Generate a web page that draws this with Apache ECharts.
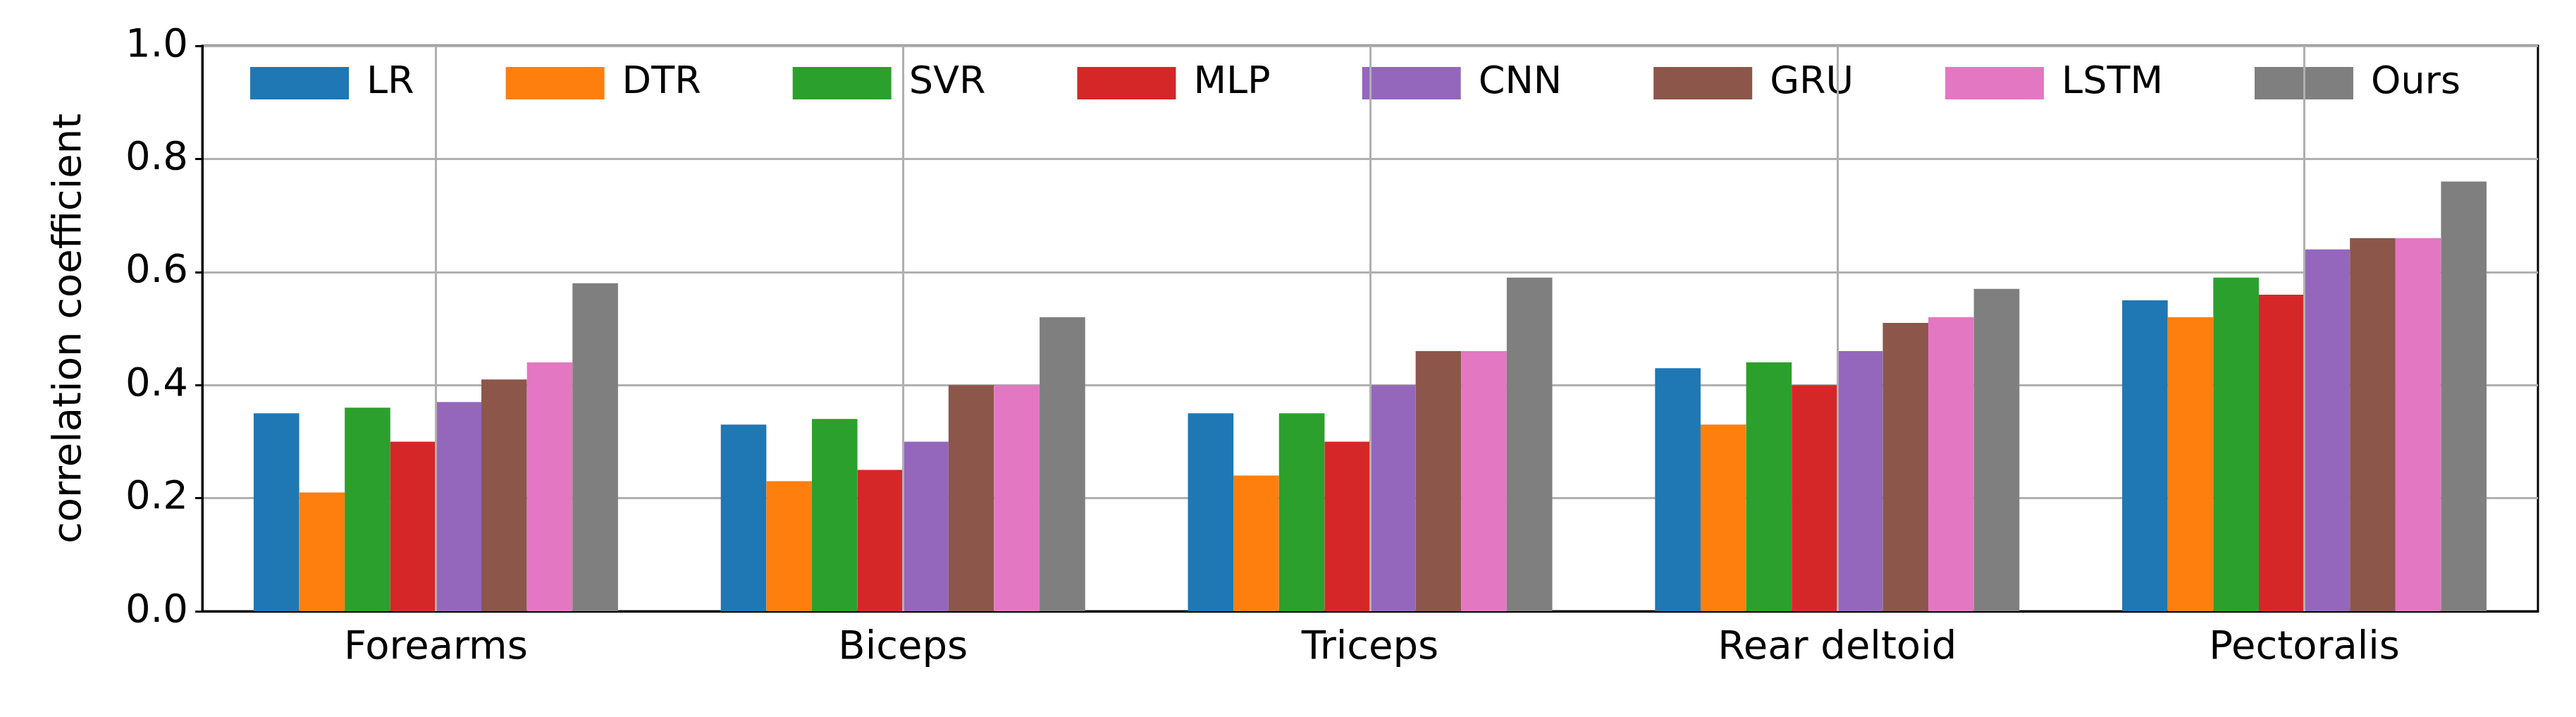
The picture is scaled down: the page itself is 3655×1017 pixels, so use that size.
<!DOCTYPE html>
<html><head><meta charset="utf-8">
<script src="https://cdn.jsdelivr.net/npm/echarts@6/dist/echarts.min.js"></script>
<style>html,body{margin:0;background:#fff}#c{width:3655px;height:1017px}</style>
</head><body><div id="c"></div>
<script>
const categories = ['Forearms', 'Biceps', 'Triceps', 'Rear deltoid', 'Pectoralis']
const methods = ['LR', 'DTR', 'SVR', 'MLP', 'CNN', 'GRU', 'LSTM', 'Ours']
const colors = ['#1f77b4', '#ff7f0e', '#2ca02c', '#d62728', '#9467bd', '#8c564b', '#e377c2', '#7f7f7f']
const LR = [0.35, 0.33, 0.35, 0.43, 0.55]
const DTR = [0.21, 0.23, 0.24, 0.33, 0.52]
const SVR = [0.36, 0.34, 0.35, 0.44, 0.59]
const MLP = [0.30, 0.25, 0.30, 0.40, 0.56]
const CNN = [0.37, 0.30, 0.40, 0.46, 0.64]
const GRU = [0.41, 0.40, 0.46, 0.51, 0.66]
const LSTM = [0.44, 0.40, 0.46, 0.52, 0.66]
const Ours = [0.58, 0.52, 0.59, 0.57, 0.76]
const values = [LR, DTR, SVR, MLP, CNN, GRU, LSTM, Ours]

const font = 'DejaVu Sans'
const chart = echarts.init(document.getElementById('c'))

const bars = methods.map((m, i) => ({
    name: m, type: 'bar', data: values[i], z: 3,
    itemStyle: { color: colors[i] },
    barGap: '0%', barCategoryGap: '22%'
}))
// vertical grid lines at category centres, behind the bars
const gridLines = {
    type: 'line', data: [], z: 1, silent: true,
    markLine: {
        symbol: 'none', silent: true, label: { show: false },
        lineStyle: { color: '#b0b0b0', width: 3, type: 'solid' },
        data: categories.map(c => ({ xAxis: c }))
    }
}

chart.setOption({
    animation: false,
    textStyle: { fontFamily: font },
    grid: { left: 287, right: 54, top: 65, bottom: 150, show: true, borderColor: '#000', borderWidth: 3 },
    legend: {
        data: methods,
        left: 350, top: 86, itemWidth: 140, itemHeight: 46, itemGap: 130,
        icon: 'rect',
        textStyle: { fontSize: 54, color: '#000', fontFamily: font, padding: [0, 0, 0, 20] },
        backgroundColor: 'rgba(255,255,255,0.8)'
    },
    xAxis: {
        type: 'category', data: categories,
        axisLine: { lineStyle: { color: '#000', width: 3 } },
        axisTick: { alignWithLabel: true, length: 10, lineStyle: { color: '#000', width: 3 } },
        axisLabel: { fontSize: 56, color: '#000', margin: 24 },
        splitLine: { show: false }
    },
    yAxis: {
        type: 'value', min: 0, max: 1, interval: 0.2,
        name: 'correlation coefficient', nameLocation: 'middle', nameGap: 160,
        nameTextStyle: { fontSize: 56, color: '#000' },
        axisLine: { show: true, lineStyle: { color: '#000', width: 3 } },
        axisTick: { show: true, length: 10, lineStyle: { color: '#000', width: 3 } },
        axisLabel: { fontSize: 56, color: '#000', margin: 20, formatter: v => v.toFixed(1) },
        splitLine: { lineStyle: { color: '#b0b0b0', width: 3 } }
    },
    series: [gridLines].concat(bars)
})
</script></body></html>
